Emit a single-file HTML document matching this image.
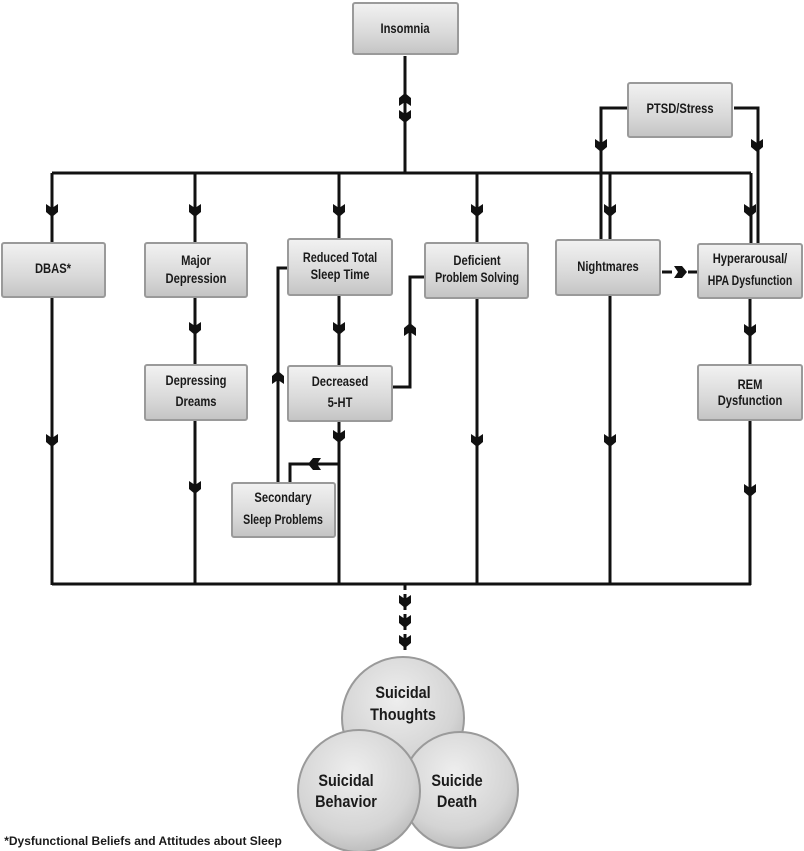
<!DOCTYPE html>
<html><head><meta charset="utf-8"><style>
html,body{margin:0;padding:0;background:#fff;}
svg{display:block;}
text{font-family:"Liberation Sans",sans-serif;font-weight:bold;fill:#1a1a1a;text-anchor:middle;}
</style></head><body>
<svg width="804" height="851" viewBox="0 0 804 851" xmlns="http://www.w3.org/2000/svg">
<defs>
<linearGradient id="bg" x1="0" y1="0" x2="0" y2="1">
<stop offset="0" stop-color="#f2f2f2"/><stop offset="0.6" stop-color="#d9d9d9"/><stop offset="1" stop-color="#c4c4c4"/>
</linearGradient>
<radialGradient id="cg" cx="0.45" cy="0.35" r="0.7">
<stop offset="0" stop-color="#eeeeee"/><stop offset="0.7" stop-color="#d4d4d4"/><stop offset="1" stop-color="#b8b8b8"/>
</radialGradient>
<path id="cd" d="M-6,-6 L0,-2 L6,-6 L6,2 L0,7 L-6,2 Z" fill="#111"/>
</defs>
<g stroke="#111" stroke-width="3" fill="none">
<line x1="405" y1="56" x2="405" y2="174"/>
<line x1="52" y1="173" x2="751" y2="173"/>
<line x1="52" y1="173" x2="52" y2="243"/>
<line x1="195" y1="173" x2="195" y2="243"/>
<line x1="339" y1="173" x2="339" y2="239"/>
<line x1="477" y1="173" x2="477" y2="243"/>
<line x1="610" y1="173" x2="610" y2="240"/>
<line x1="751" y1="173" x2="751" y2="244"/>
<polyline points="628,108 601,108 601,240"/>
<polyline points="734,108 758,108 758,244"/>
<line x1="662" y1="272" x2="672" y2="272"/>
<line x1="688" y1="272" x2="697" y2="272"/>
<line x1="195" y1="298" x2="195" y2="365"/>
<line x1="339" y1="296" x2="339" y2="366"/>
<line x1="750" y1="299" x2="750" y2="365"/>
<polyline points="393,387 410,387 410,277 425,277"/>
<polyline points="278,483 278,268 288,268"/>
<line x1="52" y1="298" x2="52" y2="585"/>
<line x1="195" y1="421" x2="195" y2="585"/>
<line x1="339" y1="422" x2="339" y2="585"/>
<polyline points="339,464 290,464 290,483"/>
<line x1="477" y1="299" x2="477" y2="585"/>
<line x1="610" y1="296" x2="610" y2="585"/>
<line x1="750" y1="421" x2="750" y2="585"/>
<line x1="52" y1="584" x2="751" y2="584"/>
<line x1="405" y1="584" x2="405" y2="650" stroke-dasharray="6,4"/>
</g>
<g>
<use href="#cd" transform="translate(405 100) rotate(180)"/>
<use href="#cd" x="405" y="116"/>
<use href="#cd" x="52" y="210"/><use href="#cd" x="195" y="210"/><use href="#cd" x="339" y="210"/>
<use href="#cd" x="477" y="210"/><use href="#cd" x="610" y="210"/><use href="#cd" x="750" y="210"/>
<use href="#cd" x="601" y="145"/><use href="#cd" x="757" y="145"/>
<use href="#cd" transform="translate(680 272) rotate(-90)"/>
<use href="#cd" x="195" y="328"/><use href="#cd" x="339" y="328"/><use href="#cd" x="750" y="330"/>
<use href="#cd" transform="translate(410 330) rotate(180)"/>
<use href="#cd" transform="translate(278 378) rotate(180)"/>
<use href="#cd" x="339" y="436"/>
<use href="#cd" transform="translate(315 464) rotate(90)"/>
<use href="#cd" x="52" y="440"/><use href="#cd" x="195" y="487"/><use href="#cd" x="477" y="440"/>
<use href="#cd" x="610" y="440"/><use href="#cd" x="750" y="490"/>
<use href="#cd" x="405" y="601"/><use href="#cd" x="405" y="621"/><use href="#cd" x="405" y="641"/>
</g>
<g fill="url(#bg)" stroke="#9a9a9a" stroke-width="2">
<rect x="353" y="3" width="105" height="51" rx="2"/>
<rect x="628" y="83" width="104" height="54" rx="2"/>
<rect x="2" y="243" width="103" height="54" rx="2"/>
<rect x="145" y="243" width="102" height="54" rx="2"/>
<rect x="288" y="239" width="104" height="56" rx="2"/>
<rect x="425" y="243" width="103" height="55" rx="2"/>
<rect x="556" y="240" width="104" height="55" rx="2"/>
<rect x="698" y="244" width="104" height="54" rx="2"/>
<rect x="145" y="365" width="102" height="55" rx="2"/>
<rect x="288" y="366" width="104" height="55" rx="2"/>
<rect x="698" y="365" width="104" height="55" rx="2"/>
<rect x="232" y="483" width="103" height="54" rx="2"/>
</g>
<g font-size="14">
<text transform="translate(405 33) scale(0.8 1)">Insomnia</text>
<text transform="translate(680 113) scale(0.8 1)">PTSD/Stress</text>
<text transform="translate(53 273) scale(0.8 1)">DBAS*</text>
<text transform="translate(196 265) scale(0.8 1)">Major</text><text transform="translate(196 283) scale(0.8 1)">Depression</text>
<text transform="translate(340 262) scale(0.78 1)">Reduced Total</text><text transform="translate(340 279) scale(0.8 1)">Sleep Time</text>
<text transform="translate(477 265) scale(0.8 1)">Deficient</text><text transform="translate(477 282) scale(0.76 1)">Problem Solving</text>
<text transform="translate(608 271) scale(0.8 1)">Nightmares</text>
<text transform="translate(750 263) scale(0.8 1)">Hyperarousal/</text><text transform="translate(750 285) scale(0.75 1)">HPA Dysfunction</text>
<text transform="translate(196 385) scale(0.8 1)">Depressing</text><text transform="translate(196 406) scale(0.8 1)">Dreams</text>
<text transform="translate(340 386) scale(0.8 1)">Decreased</text><text transform="translate(340 407) scale(0.8 1)">5-HT</text>
<text transform="translate(750 389) scale(0.8 1)">REM</text><text transform="translate(750 405) scale(0.8 1)">Dysfunction</text>
<text transform="translate(283 502) scale(0.8 1)">Secondary</text><text transform="translate(283 524) scale(0.76 1)">Sleep Problems</text>
</g>
<g stroke="#9a9a9a" stroke-width="2" fill="url(#cg)">
<circle cx="403" cy="718" r="61"/>
<circle cx="460" cy="790" r="58"/>
<circle cx="359" cy="791" r="61"/>
</g>
<g font-size="17">
<text transform="translate(403 698) scale(0.85 1)">Suicidal</text><text transform="translate(403 720) scale(0.85 1)">Thoughts</text>
<text transform="translate(346 786) scale(0.85 1)">Suicidal</text><text transform="translate(346 807) scale(0.85 1)">Behavior</text>
<text transform="translate(457 786) scale(0.85 1)">Suicide</text><text transform="translate(457 807) scale(0.85 1)">Death</text>
</g>
<text x="143" y="845" font-size="12">*Dysfunctional Beliefs and Attitudes about Sleep</text>
</svg>
</body></html>
